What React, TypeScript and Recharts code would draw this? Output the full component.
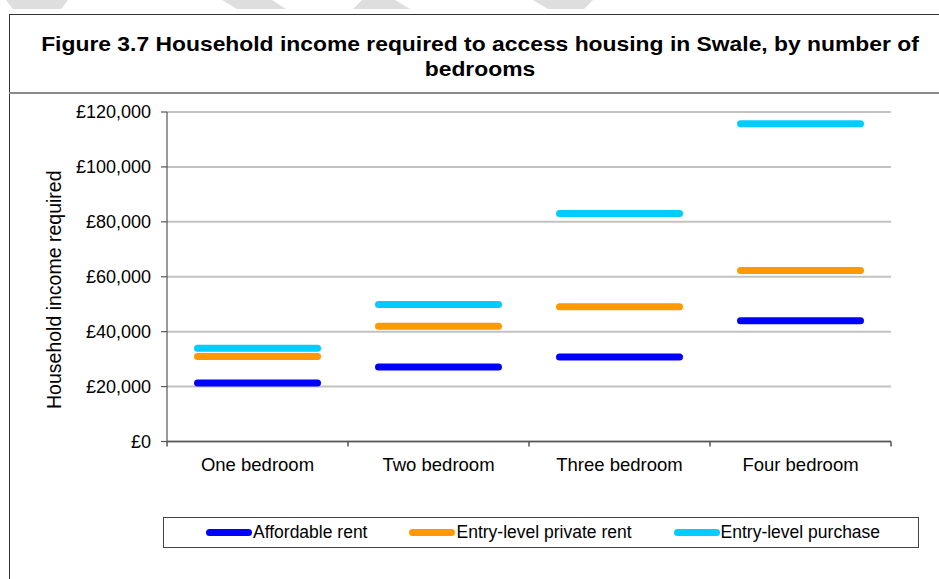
import React from 'react'
import { LineChart, Line, XAxis, YAxis, CartesianGrid } from 'recharts'

const categories = ['One bedroom', 'Two bedroom', 'Three bedroom', 'Four bedroom']
const affordableRent = [21300, 27100, 30800, 44000]
const privateRent = [31000, 42000, 49100, 62300]
const purchase = [34000, 49900, 83000, 115700]
const yTicks = [0, 20000, 40000, 60000, 80000, 100000, 120000]

const series = [
  { key: 'affordable', name: 'Affordable rent', color: '#0000FF', values: affordableRent },
  { key: 'private', name: 'Entry-level private rent', color: '#FF9900', values: privateRent },
  { key: 'purchase', name: 'Entry-level purchase', color: '#00CCFF', values: purchase },
]

const data = categories.map((name, i) => {
  const row: Record<string, any> = { name, pos: i + 0.5 }
  series.forEach(s => { row[s.key] = s.values[i] })
  return row
})

const FONT = '"Liberation Sans", Arial, sans-serif'
const DASH_HALF = 60

const money = (v: number) => '£' + v.toLocaleString('en-GB')

function dashDot(color: string) {
  return (props: any) => {
    const { cx, cy, index } = props
    if (cx == null || cy == null) return <g key={index} />
    return (
      <line
        key={index}
        x1={cx - DASH_HALF}
        x2={cx + DASH_HALF}
        y1={cy}
        y2={cy}
        stroke={color}
        strokeWidth={7}
        strokeLinecap="round"
      />
    )
  }
}

function CategoryTick(props: any) {
  const { x, y, payload } = props
  const v = payload.value as number
  if (Number.isInteger(v)) {
    return <line x1={x} x2={x} y1={y} y2={y + 5} stroke="#555" strokeWidth={1.5} />
  }
  return (
    <text x={x} y={y + 16.5} dy="0.71em" textAnchor="middle" fontSize={18.5} fill="#000">
      {categories[Math.floor(v)]}
    </text>
  )
}

function AxisTitle(props: any) {
  const { viewBox } = props
  const x = viewBox.x
  const y = viewBox.y + viewBox.height / 2 + 13
  return (
    <text
      x={x}
      y={y}
      transform={`rotate(-90, ${x}, ${y})`}
      textAnchor="middle"
      dominantBaseline="central"
      fontSize={19.5}
      fill="#000"
    >
      Household income required
    </text>
  )
}

export default function App() {
  return (
    <div
      style={{
        position: 'absolute',
        left: 0,
        top: 0,
        width: 939,
        height: 579,
        overflow: 'hidden',
        background: '#fff',
        fontFamily: FONT,
      }}
    >
      <svg width={939} height={12} style={{ position: 'absolute', left: 0, top: 0 }}>
        <polygon points="6,0 68,0 61,9 13,9" fill="#dedede" />
        <polygon points="222,0 272,0 286,9 237,9" fill="#dedede" />
        <polygon points="362,0 395,0 410,9 353,9" fill="#dedede" />
        <polygon points="533,0 593,0 584,9 548,9" fill="#dedede" />
      </svg>
      <div
        style={{
          position: 'absolute',
          left: 9,
          top: 14,
          width: 960,
          height: 600,
          border: '1.5px solid #333',
          boxSizing: 'border-box',
        }}
      />
      <div
        style={{ position: 'absolute', left: 9, top: 92, width: 940, height: 2, background: '#8a8a8a' }}
      />
      <div
        style={{
          position: 'absolute',
          left: 9,
          top: 31,
          width: 942,
          textAlign: 'center',
          fontWeight: 'bold',
          fontSize: 20.5,
          lineHeight: '25px',
          color: '#000',
          transform: 'scaleX(1.115)',
          transformOrigin: '471px 0',
        }}
      >
        Figure 3.7 Household income required to access housing in Swale, by number of
        <br />
        bedrooms
      </div>

      <div style={{ position: 'absolute', left: 0, top: 0 }}>
        <LineChart
          width={939}
          height={500}
          data={data}
          margin={{ top: 112, right: 48, left: 54, bottom: 28.5 }}
        >
          <CartesianGrid horizontal vertical={false} stroke="#c2c2c2" strokeWidth={2} />
          <XAxis
            dataKey="pos"
            type="number"
            domain={[0, 4]}
            ticks={[0, 0.5, 1, 1.5, 2, 2.5, 3, 3.5, 4]}
            interval={0}
            height={30}
            tickSize={0}
            tickMargin={0}
            tickLine={false}
            axisLine={{ stroke: '#555', strokeWidth: 1.5 }}
            tick={<CategoryTick />}
          />
          <YAxis
            domain={[0, 120000]}
            ticks={yTicks}
            interval={0}
            width={113}
            tickSize={6}
            tickMargin={10}
            tickFormatter={money}
            tick={{ fontSize: 18, fill: '#000' }}
            axisLine={{ stroke: '#555', strokeWidth: 1.2 }}
            tickLine={{ stroke: '#555', strokeWidth: 1.2 }}
            label={{ content: <AxisTitle /> }}
          />
          {series.map(s => (
            <Line
              key={s.key}
              dataKey={s.key}
              name={s.name}
              stroke="none"
              dot={dashDot(s.color)}
              activeDot={false}
              isAnimationActive={false}
            />
          ))}
        </LineChart>
      </div>

      <div
        style={{
          position: 'absolute',
          left: 163,
          top: 517,
          width: 756,
          height: 31,
          border: '1.5px solid #444',
          boxSizing: 'border-box',
          display: 'flex',
          alignItems: 'center',
          paddingLeft: 42,
          gap: 42,
          fontSize: 17.5,
          color: '#000',
        }}
      >
        {series.map(s => (
          <div key={s.key} style={{ display: 'flex', alignItems: 'center' }}>
            <span
              style={{
                display: 'inline-block',
                width: 46,
                height: 7,
                borderRadius: 4,
                background: s.color,
                marginRight: 1,
              }}
            />
            <span>{s.name}</span>
          </div>
        ))}
      </div>
    </div>
  )
}
